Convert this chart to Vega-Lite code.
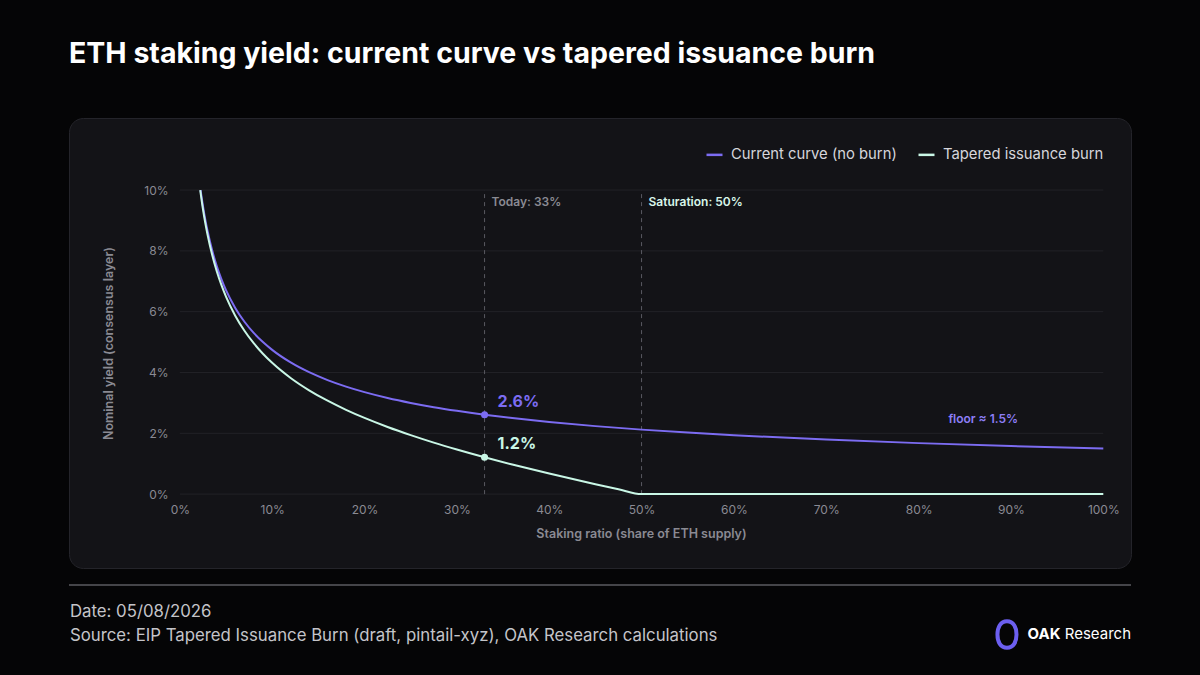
{
  "$schema": "https://vega.github.io/schema/vega-lite/v6.json",
  "description": "ETH staking yield: current issuance curve vs tapered issuance burn.",
  "autosize": {"type": "none"},
  "width": 1062,
  "height": 450,
  "padding": {"left": 69, "top": 118, "right": 69, "bottom": 107},
  "background": "#050506",
  "config": {
    "font": "Inter",
    "view": {"fill": "#131317", "stroke": "#24242a", "strokeWidth": 1, "cornerRadius": 14}
  },
  "title": {
    "text": "ETH staking yield: current curve vs tapered issuance burn",
    "anchor": "start",
    "frame": "group",
    "fontSize": 28.5,
    "fontWeight": 700,
    "font": "Inter",
    "color": "#ffffff",
    "offset": 50
  },
  "datasets": {
    "grid": [{"g": 0}, {"g": 2}, {"g": 4}, {"g": 6}, {"g": 8}, {"g": 10}],
    "markers": [
      {"s": 33, "label": "Today: 33%"},
      {"s": 50, "label": "Saturation: 50%"}
    ],
    "curves": [
      {"s": 2.25, "y": 10.0, "series": "Current curve (no burn)"},
      {"s": 2.5, "y": 9.487, "series": "Current curve (no burn)"},
      {"s": 2.75, "y": 9.045, "series": "Current curve (no burn)"},
      {"s": 3, "y": 8.66, "series": "Current curve (no burn)"},
      {"s": 3.5, "y": 8.018, "series": "Current curve (no burn)"},
      {"s": 4, "y": 7.5, "series": "Current curve (no burn)"},
      {"s": 4.5, "y": 7.071, "series": "Current curve (no burn)"},
      {"s": 5, "y": 6.708, "series": "Current curve (no burn)"},
      {"s": 6, "y": 6.124, "series": "Current curve (no burn)"},
      {"s": 7, "y": 5.669, "series": "Current curve (no burn)"},
      {"s": 8, "y": 5.303, "series": "Current curve (no burn)"},
      {"s": 9, "y": 5.0, "series": "Current curve (no burn)"},
      {"s": 10, "y": 4.743, "series": "Current curve (no burn)"},
      {"s": 12, "y": 4.33, "series": "Current curve (no burn)"},
      {"s": 14, "y": 4.009, "series": "Current curve (no burn)"},
      {"s": 16, "y": 3.75, "series": "Current curve (no burn)"},
      {"s": 18, "y": 3.536, "series": "Current curve (no burn)"},
      {"s": 20, "y": 3.354, "series": "Current curve (no burn)"},
      {"s": 22.5, "y": 3.162, "series": "Current curve (no burn)"},
      {"s": 25, "y": 3.0, "series": "Current curve (no burn)"},
      {"s": 27.5, "y": 2.86, "series": "Current curve (no burn)"},
      {"s": 30, "y": 2.739, "series": "Current curve (no burn)"},
      {"s": 33, "y": 2.611, "series": "Current curve (no burn)"},
      {"s": 36, "y": 2.5, "series": "Current curve (no burn)"},
      {"s": 40, "y": 2.372, "series": "Current curve (no burn)"},
      {"s": 45, "y": 2.236, "series": "Current curve (no burn)"},
      {"s": 50, "y": 2.121, "series": "Current curve (no burn)"},
      {"s": 55, "y": 2.023, "series": "Current curve (no burn)"},
      {"s": 60, "y": 1.936, "series": "Current curve (no burn)"},
      {"s": 70, "y": 1.793, "series": "Current curve (no burn)"},
      {"s": 80, "y": 1.677, "series": "Current curve (no burn)"},
      {"s": 90, "y": 1.581, "series": "Current curve (no burn)"},
      {"s": 100, "y": 1.5, "series": "Current curve (no burn)"},
      {"s": 2.21, "y": 10.0, "series": "Tapered issuance burn"},
      {"s": 2.5, "y": 9.381, "series": "Tapered issuance burn"},
      {"s": 2.75, "y": 8.928, "series": "Tapered issuance burn"},
      {"s": 3, "y": 8.533, "series": "Tapered issuance burn"},
      {"s": 3.5, "y": 7.869, "series": "Tapered issuance burn"},
      {"s": 4, "y": 7.33, "series": "Tapered issuance burn"},
      {"s": 4.5, "y": 6.88, "series": "Tapered issuance burn"},
      {"s": 5, "y": 6.496, "series": "Tapered issuance burn"},
      {"s": 6, "y": 5.869, "series": "Tapered issuance burn"},
      {"s": 7, "y": 5.372, "series": "Tapered issuance burn"},
      {"s": 8, "y": 4.964, "series": "Tapered issuance burn"},
      {"s": 9, "y": 4.618, "series": "Tapered issuance burn"},
      {"s": 10, "y": 4.319, "series": "Tapered issuance burn"},
      {"s": 12, "y": 3.821, "series": "Tapered issuance burn"},
      {"s": 14, "y": 3.415, "series": "Tapered issuance burn"},
      {"s": 16, "y": 3.071, "series": "Tapered issuance burn"},
      {"s": 18, "y": 2.772, "series": "Tapered issuance burn"},
      {"s": 20, "y": 2.505, "series": "Tapered issuance burn"},
      {"s": 22.5, "y": 2.207, "series": "Tapered issuance burn"},
      {"s": 25, "y": 1.939, "series": "Tapered issuance burn"},
      {"s": 27.5, "y": 1.693, "series": "Tapered issuance burn"},
      {"s": 30, "y": 1.466, "series": "Tapered issuance burn"},
      {"s": 33, "y": 1.211, "series": "Tapered issuance burn"},
      {"s": 36, "y": 0.973, "series": "Tapered issuance burn"},
      {"s": 40, "y": 0.675, "series": "Tapered issuance burn"},
      {"s": 45, "y": 0.327, "series": "Tapered issuance burn"},
      {"s": 47.5, "y": 0.161, "series": "Tapered issuance burn"},
      {"s": 50, "y": 0, "series": "Tapered issuance burn"},
      {"s": 60, "y": 0, "series": "Tapered issuance burn"},
      {"s": 70, "y": 0, "series": "Tapered issuance burn"},
      {"s": 80, "y": 0, "series": "Tapered issuance burn"},
      {"s": 90, "y": 0, "series": "Tapered issuance burn"},
      {"s": 100, "y": 0, "series": "Tapered issuance burn"}
    ],
    "today": [
      {"s": 33, "y": 2.611, "series": "Current curve (no burn)", "label": "2.6%"},
      {"s": 33, "y": 1.211, "series": "Tapered issuance burn", "label": "1.2%"}
    ]
  },
  "layer": [
    {
      "data": {"name": "grid"},
      "mark": {"type": "rule", "color": "#222227", "strokeWidth": 1},
      "encoding": {
        "y": {
          "field": "g",
          "type": "quantitative",
          "scale": {"domain": [-2.43, 12.37], "nice": false, "zero": false},
          "axis": {
            "values": [0, 2, 4, 6, 8, 10],
            "labelExpr": "datum.value + '%'",
            "offset": -111,
            "domain": false,
            "ticks": false,
            "grid": false,
            "labelPadding": 12,
            "labelColor": "#8a8a93",
            "labelFontSize": 12,
            "title": "Nominal yield (consensus layer)",
            "titleColor": "#8a8a93",
            "titleFontSize": 12.5,
            "titleFontWeight": 600,
            "titlePadding": 28
          }
        },
        "x": {
          "datum": 0,
          "type": "quantitative",
          "scale": {"domain": [-12, 103], "nice": false, "zero": false},
          "axis": {
            "values": [0, 10, 20, 30, 40, 50, 60, 70, 80, 90, 100],
            "labelExpr": "datum.value + '%'",
            "offset": -74,
            "domain": false,
            "ticks": false,
            "grid": false,
            "labelPadding": 10,
            "labelColor": "#8a8a93",
            "labelFontSize": 12,
            "title": "Staking ratio (share of ETH supply)",
            "titleColor": "#8a8a93",
            "titleFontSize": 12.5,
            "titleFontWeight": 600,
            "titlePadding": 12,
            "titleX": 572
          }
        },
        "x2": {"datum": 100}
      }
    },
    {
      "data": {"name": "markers"},
      "mark": {"type": "rule", "color": "#5a5a62", "strokeWidth": 1, "strokeDash": [4, 4]},
      "encoding": {
        "x": {"field": "s", "type": "quantitative"},
        "y": {"datum": 0, "type": "quantitative"},
        "y2": {"datum": 10}
      }
    },
    {
      "data": {"name": "markers"},
      "mark": {"type": "text", "align": "left", "baseline": "top", "dx": 7, "dy": 7, "fontSize": 12, "fontWeight": 600},
      "encoding": {
        "x": {"field": "s", "type": "quantitative"},
        "y": {"datum": 10, "type": "quantitative"},
        "text": {"field": "label"},
        "color": {"condition": {"test": "datum.s == 50", "value": "#d8f6ea"}, "value": "#8a8a93"}
      }
    },
    {
      "data": {"name": "curves"},
      "mark": {"type": "line", "strokeWidth": 2, "interpolate": "monotone"},
      "encoding": {
        "x": {"field": "s", "type": "quantitative"},
        "y": {"field": "y", "type": "quantitative"},
        "color": {
          "field": "series",
          "type": "nominal",
          "scale": {
            "domain": ["Current curve (no burn)", "Tapered issuance burn"],
            "range": ["#7c6cf2", "#c9f7e6"]
          },
          "legend": {
            "orient": "top-right",
            "direction": "horizontal",
            "title": null,
            "offset": 27,
            "padding": 0,
            "symbolType": "stroke",
            "symbolStrokeWidth": 2.5,
            "symbolSize": 256,
            "labelFontSize": 14.8,
            "labelColor": "#d6d6dc",
            "labelFont": "Inter",
            "labelLimit": 400,
            "labelOffset": 7,
            "columnPadding": 16
          }
        }
      }
    },
    {
      "data": {"name": "today"},
      "mark": {"type": "point", "filled": true, "size": 50, "opacity": 1},
      "encoding": {
        "x": {"field": "s", "type": "quantitative"},
        "y": {"field": "y", "type": "quantitative"},
        "color": {"field": "series", "type": "nominal"}
      }
    },
    {
      "data": {"name": "today"},
      "mark": {"type": "text", "align": "left", "baseline": "middle", "dx": 13, "dy": -13, "fontSize": 16, "fontWeight": 700},
      "encoding": {
        "x": {"field": "s", "type": "quantitative"},
        "y": {"field": "y", "type": "quantitative"},
        "text": {"field": "label"},
        "color": {"field": "series", "type": "nominal"}
      }
    },
    {
      "data": {"values": [{"s": 87, "y": 2.48, "label": "floor ≈ 1.5%"}]},
      "mark": {"type": "text", "align": "center", "baseline": "middle", "fontSize": 12, "fontWeight": 600, "color": "#8d7ef6"},
      "encoding": {
        "x": {"field": "s", "type": "quantitative"},
        "y": {"field": "y", "type": "quantitative"},
        "text": {"field": "label"}
      }
    },
    {
      "data": {"values": [{"note": "footer"}]},
      "mark": {"type": "rule", "color": "#5b5b60", "strokeWidth": 1.5},
      "encoding": {
        "x": {"datum": -12, "type": "quantitative"},
        "x2": {"datum": 103},
        "y": {"datum": -2.99, "type": "quantitative"}
      }
    },
    {
      "data": {"values": [{"text": "Date: 05/08/2026"}]},
      "mark": {"type": "text", "align": "left", "baseline": "middle", "fontSize": 16.8, "color": "#c4c4c9"},
      "encoding": {
        "x": {"datum": -11.9, "type": "quantitative"},
        "y": {"datum": -3.88, "type": "quantitative"},
        "text": {"field": "text"}
      }
    },
    {
      "data": {"values": [{"text": "Source: EIP Tapered Issuance Burn (draft, pintail-xyz), OAK Research calculations"}]},
      "mark": {"type": "text", "align": "left", "baseline": "middle", "fontSize": 16.8, "color": "#c4c4c9"},
      "encoding": {
        "x": {"datum": -11.9, "type": "quantitative"},
        "y": {"datum": -4.67, "type": "quantitative"},
        "text": {"field": "text"}
      }
    },
    {
      "data": {"values": [{"brand": "OAK"}]},
      "mark": {
        "type": "point",
        "shape": "M0,-1 C0.5,-1 0.72,-0.55 0.72,0 C0.72,0.55 0.5,1 0,1 C-0.5,1 -0.72,0.55 -0.72,0 C-0.72,-0.55 -0.5,-1 0,-1 Z",
        "filled": false,
        "size": 700,
        "strokeWidth": 4,
        "color": "#6c5ff0",
        "opacity": 1
      },
      "encoding": {
        "x": {"datum": 89.57, "type": "quantitative"},
        "y": {"datum": -4.62, "type": "quantitative"}
      }
    },
    {
      "data": {"values": [{"text": "OAK"}]},
      "mark": {"type": "text", "align": "left", "baseline": "middle", "fontSize": 15, "fontWeight": 700, "color": "#ffffff"},
      "encoding": {
        "x": {"datum": 91.8, "type": "quantitative"},
        "y": {"datum": -4.6, "type": "quantitative"},
        "text": {"field": "text"}
      }
    },
    {
      "data": {"values": [{"text": "Research"}]},
      "mark": {"type": "text", "align": "right", "baseline": "middle", "fontSize": 15, "color": "#ffffff"},
      "encoding": {
        "x": {"datum": 103, "type": "quantitative"},
        "y": {"datum": -4.6, "type": "quantitative"},
        "text": {"field": "text"}
      }
    }
  ]
}
